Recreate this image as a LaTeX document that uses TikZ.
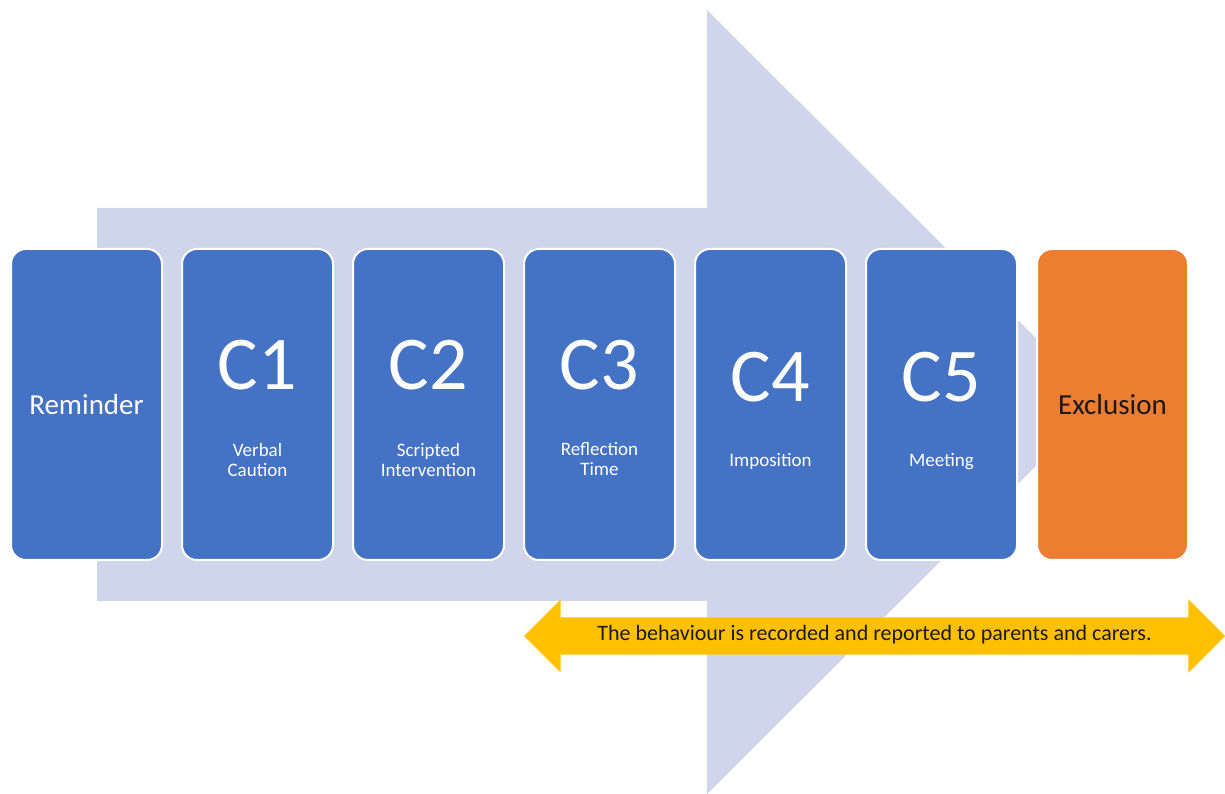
\documentclass[tikz,border=0pt]{standalone}
\usepackage{fontspec}
\setmainfont{Carlito}
\usepackage{tikz}
\usetikzlibrary{positioning, shapes.arrows}
\usepackage{xcolor}
\definecolor{stageblue}{HTML}{4472C4}
\definecolor{exclorange}{HTML}{ED7D31}
\definecolor{arrowgrey}{HTML}{CFD5EA}
\definecolor{recordyellow}{HTML}{FFC000}
\definecolor{darktext}{HTML}{1A1A1A}

\begin{document}
\begin{tikzpicture}[
    x=1pt, y=1pt,
    node distance=18pt,
    stage/.style={rectangle, draw=white, line width=2pt, fill=stageblue, text=white, minimum width=151pt, minimum height=311pt, rounded corners=15pt, font=\fontsize{29}{34}\selectfont},
    exclusion/.style={stage, fill=exclorange, text=darktext},
    code/.style={text=white, inner sep=0pt, font=\fontsize{76}{84}\selectfont},
    detail/.style={text=white, align=center, inner sep=0pt, font=\fontsize{19}{20}\selectfont},
    bigarrow/.style={fill=arrowgrey},
    record/.style={double arrow, fill=recordyellow, text=darktext, minimum height=701pt, minimum width=73pt, double arrow head extend=18pt, double arrow head indent=0pt, text height=15pt, text depth=5pt, inner ysep=8.5pt, inner xsep=2pt, font=\fontsize{22}{26}\selectfont}
]
    \useasboundingbox (0,0) rectangle (1225,794);
    \fill [bigarrow] (97,586) -- (707,586) -- (707,784) -- (1100,392) -- (707,0) -- (707,193) -- (97,193) -- cycle;

    \node [stage] (reminder) at (86.5,389.5) {Reminder};
    \node [stage, right=of reminder] (c1) {};
    \node [stage, right=of c1] (c2) {};
    \node [stage, right=of c2] (c3) {};
    \node [stage, right=of c3] (c4) {};
    \node [stage, right=of c4] (c5) {};
    \node [exclusion, right=of c5] (exclusion) {Exclusion};

    \node [code] (c1code) at ([yshift=39pt]c1.center) {C1};
    \node [detail] (c1text) at ([yshift=-55pt]c1.center) {Verbal\\Caution};
    \node [code] (c2code) at ([yshift=39pt]c2.center) {C2};
    \node [detail] (c2text) at ([yshift=-55pt]c2.center) {Scripted\\Intervention};
    \node [code] (c3code) at ([yshift=39pt]c3.center) {C3};
    \node [detail] (c3text) at ([yshift=-55pt]c3.center) {Reflection\\Time};
    \node [code] (c4code) at ([yshift=27pt]c4.center) {C4};
    \node [detail] (c4text) at ([yshift=-57pt]c4.center) {Imposition};
    \node [code] (c5code) at ([yshift=27pt]c5.center) {C5};
    \node [detail] (c5text) at ([yshift=-57pt]c5.center) {Meeting};

    \node [record] (recorded) at (874.5,158) {The behaviour is recorded and reported to parents and carers.};
\end{tikzpicture}
\end{document}
